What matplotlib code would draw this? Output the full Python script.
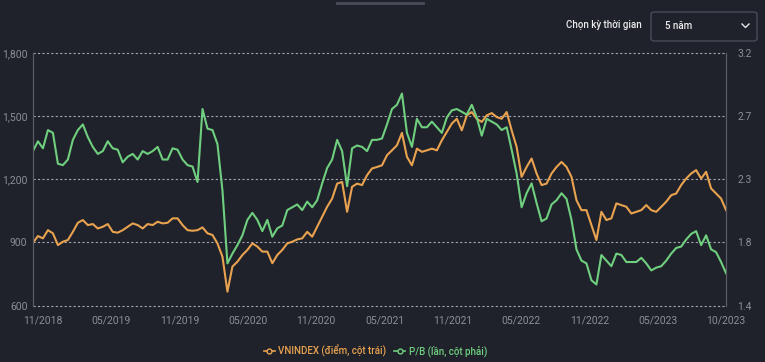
import matplotlib
matplotlib.use("Agg")
import matplotlib.pyplot as plt
from matplotlib.lines import Line2D
from matplotlib.patches import FancyBboxPatch
import numpy as np

plt.rcParams['font.family'] = ['Roboto', 'DejaVu Sans']

BG = "#1f222b"
ORANGE = "#e9a24f"
GREEN = "#6fcf7f"
TICK = "#8b8e95"

# VNINDEX (points, left axis), every 5 px
vnindex = [
    898, 930, 919, 958, 943, 887, 903, 911, 950, 993, 1006, 982, 987, 966, 974, 987, 950, 946, 958, 974, 990, 982, 966, 987,
    982, 998, 990, 993, 1014, 1014, 982, 958, 955, 958, 971, 943, 935, 895, 832, 666, 785, 808, 840, 864, 895, 880, 856,
    856, 801, 840, 864, 895, 903, 914, 919, 950, 927, 974, 1022, 1069, 1108, 1179, 1187, 1045, 1164, 1179, 1172, 1219, 1251, 1258,
    1266, 1314, 1337, 1361, 1420, 1306, 1266, 1345, 1330, 1337, 1345, 1337, 1385, 1424, 1464, 1487, 1432, 1503, 1519, 1487, 1472, 1503, 1514,
    1495, 1487, 1519, 1432, 1353, 1211, 1258, 1298, 1227, 1172, 1179, 1227, 1258, 1282, 1258, 1211, 1100, 1053, 1053, 982, 911, 1045, 1006,
    1014, 1085, 1077, 1069, 1037, 1045, 1053, 1077, 1053, 1045, 1069, 1093, 1124, 1132, 1172, 1203, 1227, 1243, 1203, 1235, 1156, 1132, 1108, 1053,
]

# P/B (times, right axis)
pb = [
    2.50, 2.57, 2.52, 2.65, 2.63, 2.41, 2.40, 2.44, 2.58, 2.65, 2.69, 2.60, 2.53, 2.48, 2.50, 2.57, 2.52, 2.51, 2.42, 2.46, 2.48, 2.44, 2.50, 2.48,
    2.50, 2.53, 2.44, 2.44, 2.52, 2.51, 2.44, 2.40, 2.39, 2.28, 2.80, 2.66, 2.65, 2.55, 2.22, 1.70, 1.77, 1.83, 1.90, 2.01, 2.06, 2.01, 1.93,
    2.01, 1.89, 1.95, 1.97, 2.08, 2.10, 2.12, 2.08, 2.14, 2.10, 2.15, 2.27, 2.38, 2.44, 2.58, 2.50, 2.25, 2.52, 2.54, 2.53, 2.50, 2.58, 2.58,
    2.59, 2.69, 2.80, 2.83, 2.91, 2.63, 2.53, 2.73, 2.67, 2.67, 2.71, 2.67, 2.63, 2.74, 2.79, 2.80, 2.78, 2.76, 2.83, 2.74, 2.61, 2.73, 2.71,
    2.69, 2.65, 2.67, 2.51, 2.34, 2.10, 2.20, 2.27, 2.13, 2.00, 2.02, 2.12, 2.15, 2.20, 2.16, 2.01, 1.80, 1.72, 1.70, 1.58, 1.55, 1.76, 1.72,
    1.68, 1.77, 1.76, 1.71, 1.71, 1.71, 1.74, 1.70, 1.65, 1.67, 1.68, 1.72, 1.77, 1.81, 1.82, 1.87, 1.91, 1.93, 1.83, 1.90, 1.80, 1.78, 1.71, 1.63,
]

x_labels = ["11/2018", "05/2019", "11/2019", "05/2020", "11/2020", "05/2021",
            "11/2021", "05/2022", "11/2022", "05/2023", "10/2023"]
left_ticks = [600, 900, 1200, 1500, 1800]
right_ticks = [1.4, 1.85, 2.3, 2.75, 3.2]
right_labels = ["1.4", "1.8", "2.3", "2.7", "3.2"]

fig = plt.figure(figsize=(7.65, 3.62), dpi=100, facecolor=BG)
ax = fig.add_axes([0.0431, 0.156, 0.906, 0.698])
ax.set_facecolor(BG)
ax2 = ax.twinx()

x = np.arange(len(vnindex))
ax.plot(x, vnindex, color=ORANGE, lw=1.5)
ax2.plot(x, pb, color=GREEN, lw=1.5)

ax.set_xlim(0, len(vnindex) - 1)
ax.set_ylim(600, 1800)
ax2.set_ylim(1.4, 3.2)

ax.set_xticks(np.linspace(2, len(vnindex) - 1, len(x_labels)))
ax.set_xticklabels(x_labels)
ax.set_yticks(left_ticks)
ax.set_yticklabels([f"{v:,}" for v in left_ticks])
ax2.set_yticks(right_ticks)
ax2.set_yticklabels(right_labels)

ax.tick_params(axis="x", length=0, pad=7, labelsize=7.5, colors=TICK)
ax.tick_params(axis="y", length=0, pad=4, labelsize=7.5, colors=TICK)
ax2.tick_params(axis="y", length=0, pad=8, labelsize=7.5, colors=TICK)

ax.grid(axis="y", color="#a3a5ab", linestyle=(0, (2, 2)), lw=0.8)
for gl in ax.get_ygridlines():
    gl.set_clip_on(False)
for a in (ax, ax2):
    a.spines["top"].set_visible(False)
    a.spines["bottom"].set_visible(False)
    a.spines["left"].set_color("#5a5d66")
    a.spines["right"].set_color("#5a5d66")

# header controls
fig.add_artist(Line2D([337 / 765, 423 / 765], [1 - 2.5 / 362] * 2, color="#4a4d57", lw=2))
fig.text(604 / 765, 1 - 25 / 362, "Chọn kỳ thời gian", color="#ececec", fontsize=7,
         fontweight="medium", ha="center", va="center")
fig.add_artist(FancyBboxPatch((651 / 765, 1 - 41 / 362), 106 / 765, 29 / 362,
                              boxstyle="round,pad=0,rounding_size=0.006",
                              transform=fig.transFigure, facecolor=BG,
                              edgecolor="#4a4d57", lw=1))
fig.text(665 / 765, 1 - 26 / 362, "5 năm", color="#ececec", fontsize=7,
         fontweight="medium", va="center")
fig.add_artist(Line2D([742 / 765, 745.5 / 765, 749 / 765],
                      [1 - 24 / 362, 1 - 27.5 / 362, 1 - 24 / 362], color="#e6e6e6", lw=1))

handles = [
    Line2D([], [], color=ORANGE, lw=1.2, marker="o", markersize=3.5, markerfacecolor=BG),
    Line2D([], [], color=GREEN, lw=1.2, marker="o", markersize=3.5, markerfacecolor=BG),
]
leg = fig.legend(handles, ["VNINDEX (điểm, cột trái)", "P/B (lần, cột phải)"],
                 loc="center", bbox_to_anchor=(0.491, 0.030), ncol=2, frameon=False,
                 prop={"size": 7, "weight": "medium"},
                 handlelength=1.1, handletextpad=0.4, columnspacing=0.8)
for t, c in zip(leg.get_texts(), [ORANGE, GREEN]):
    t.set_color(c)

fig.savefig("out.png", dpi=100, facecolor=BG)
